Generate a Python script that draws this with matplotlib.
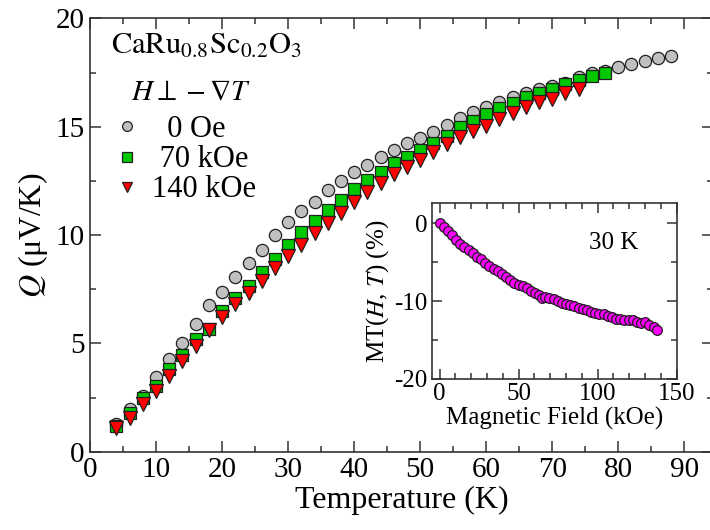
import numpy as np
import matplotlib
matplotlib.use("Agg")
import matplotlib.pyplot as plt
from matplotlib.ticker import MultipleLocator

plt.rcParams['font.family'] = ['Liberation Serif', 'DejaVu Serif']
plt.rcParams['mathtext.fontset'] = 'stix'
plt.rcParams['axes.unicode_minus'] = False

# main panel: thermopower vs temperature
temp = np.arange(4, 90, 2)
q_0 = [1.30, 1.96, 2.58, 3.46, 4.26, 5.02, 5.88, 6.77, 7.38, 8.08, 8.72, 9.31,
       9.98, 10.59, 11.09, 11.54, 12.08, 12.51, 12.91, 13.24, 13.61, 13.92,
       14.23, 14.49, 14.77, 15.08, 15.38, 15.69, 15.92, 16.15, 16.35, 16.54,
       16.72, 16.88, 17.03, 17.28, 17.46, 17.58, 17.74, 17.88, 18.03, 18.15,
       18.27]
q_70 = [1.19, 1.80, 2.46, 3.05, 3.80, 4.46, 5.20, 5.66, 6.51, 7.08, 7.66, 8.28,
        8.88, 9.52, 10.13, 10.63, 11.15, 11.62, 12.11, 12.54, 12.92, 13.31,
        13.61, 13.92, 14.26, 14.58, 14.97, 15.26, 15.57, 15.85, 16.11, 16.35,
        16.57, 16.74, 16.95, 17.15, 17.34, 17.49]
q_140 = [1.08, 1.57, 2.19, 2.80, 3.49, 4.20, 4.88, 5.62, 6.24, 6.81, 7.31, 7.88,
         8.46, 9.05, 9.56, 10.08, 10.54, 11.00, 11.51, 11.97, 12.39, 12.80,
         13.15, 13.46, 13.84, 14.22, 14.54, 14.81, 15.03, 15.34, 15.64, 15.92,
         16.12, 16.28, 16.54, 16.72]
labels = ['  0 Oe', ' 70 kOe', '140 kOe']

# inset: magnetothermopower at 30 K
field = [0, 2.5, 5.1, 7.8, 10.4, 13.1, 15.6, 18.4, 20.9, 23.7, 26.2, 28.9,
         31.5, 34.2, 36.7, 39.5, 42.0, 44.7, 47.3, 50.0, 52.5, 55.3, 57.8,
         60.6, 63.1, 64.8, 66.9, 69.4, 72.2, 74.7, 77.5, 80.0, 82.7, 85.3,
         88.0, 90.5, 93.3, 95.8, 98.5, 101.0, 103.8, 106.3, 109.1, 111.6,
         114.4, 116.9, 119.6, 122.2, 124.9, 127.5, 130.2, 132.7, 135.4, 137.6]
mt = [0.0, -0.44, -0.95, -1.5, -2.15, -2.66, -3.09, -3.44, -3.86, -4.3, -4.63,
      -5.07, -5.5, -5.84, -6.18, -6.53, -6.87, -7.3, -7.73, -7.94, -8.07,
      -8.37, -8.67, -8.93, -9.27, -9.65, -9.53, -9.65, -9.78, -9.96, -10.2,
      -10.4, -10.5, -10.6, -10.9, -11.07, -11.16, -11.38, -11.5, -11.6,
      -11.72, -11.9, -12.03, -12.24, -12.36, -12.45, -12.4, -12.45, -12.66,
      -12.87, -12.7, -13.1, -13.38, -13.73]

fig = plt.figure(figsize=(7.1, 5.3), dpi=100)
ax = fig.add_axes([0.1268, 0.1477, 0.877, 0.8177])

ax.plot(temp, q_0, 'o', ms=8.8, mfc='#c0c0c0', mec='#202020', mew=0.9,
        label=labels[0])
ax.plot(temp[:len(q_70)], q_70, 's', ms=8.2, mfc='#00c800', mec='#202020',
        mew=0.9, label=labels[1])
ax.plot(temp[:len(q_140)], q_140, 'v', ms=9.5, mfc='#ff0000', mec='#202020',
        mew=0.9, label=labels[2])

ax.set_xlim(0, 94.3)
ax.set_ylim(0, 20)
ax.xaxis.set_major_locator(MultipleLocator(10))
ax.xaxis.set_minor_locator(MultipleLocator(5))
ax.yaxis.set_major_locator(MultipleLocator(5))
ax.yaxis.set_minor_locator(MultipleLocator(2.5))
ax.tick_params(which='both', direction='in', top=True, right=True,
               labelsize=21, colors='#333333', labelcolor='black')
ax.tick_params(which='major', length=8, width=1.1, pad=4)
ax.tick_params(which='minor', length=4, width=1.1)
for s in ax.spines.values():
    s.set_linewidth(1.2)
    s.set_color('#333333')
ax.set_xlabel('Temperature (K)', fontsize=23, labelpad=2)
ax.set_ylabel(r'$Q$ (μV/K)', fontsize=23, labelpad=4)

ax.text(0.033, 0.935, r'$\mathrm{CaRu_{0.8}Sc_{0.2}O_3}$', transform=ax.transAxes,
        fontsize=22, va='center', ha='left')
ax.text(0.066, 0.829, r'$H\perp -\nabla T$', transform=ax.transAxes,
        fontsize=21, va='center', ha='left')
ax.legend(loc='upper left', bbox_to_anchor=(0.035, 0.777), frameon=False,
          fontsize=22, handletextpad=0.3, labelspacing=0.04, borderpad=0,
          handlelength=1.0, borderaxespad=0, markerscale=0.8)

# inset
ins = fig.add_axes([0.608, 0.285, 0.345, 0.332])
ins.plot(field, mt, 'o', ms=7, mfc='#ff00ff', mec='#202020', mew=0.9)
ins.set_xlim(-5, 150)
ins.set_ylim(-20, 2.6)
ins.xaxis.set_major_locator(MultipleLocator(50))
ins.xaxis.set_minor_locator(MultipleLocator(10))
ins.yaxis.set_major_locator(MultipleLocator(10))
ins.yaxis.set_minor_locator(MultipleLocator(5))
ins.tick_params(which='both', direction='in', top=True, right=True,
                labelsize=18, colors='#333333', labelcolor='black')
ins.tick_params(which='major', length=7, width=1.1, pad=3)
ins.tick_params(which='minor', length=4, width=1.1)
for s in ins.spines.values():
    s.set_linewidth(1.2)
    s.set_color('#333333')
ins.set_xlabel('Magnetic Field (kOe)', fontsize=18, labelpad=1)
ins.set_ylabel(r'MT($H$, $T$) (%)', fontsize=18, labelpad=2)
ins.text(110, -2.6, '30 K', fontsize=18, ha='center', va='center')

fig.savefig('out.png', dpi=100)
